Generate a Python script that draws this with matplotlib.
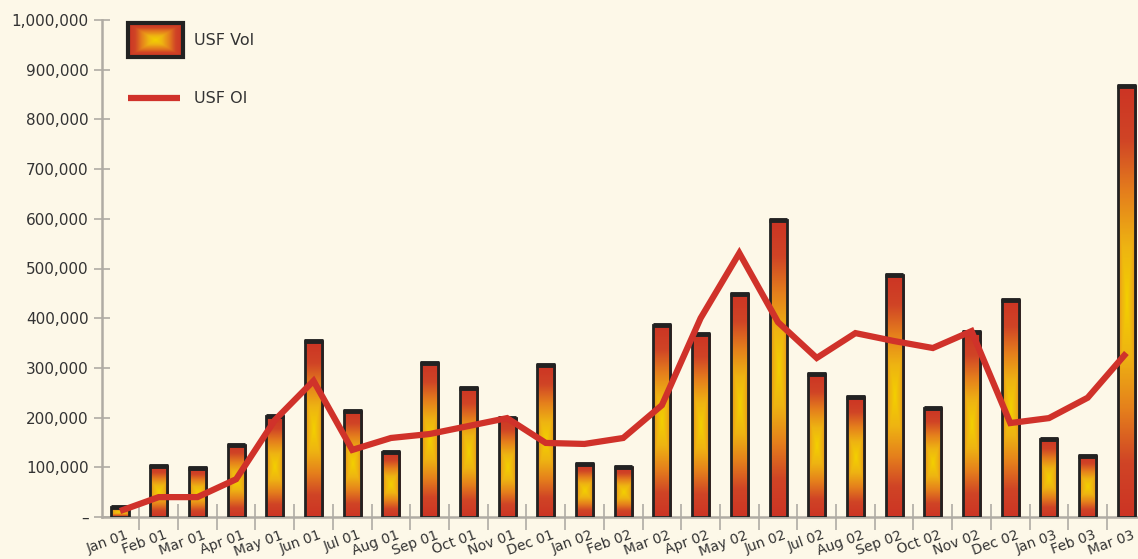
import numpy as np
import matplotlib
matplotlib.use('Agg')
from matplotlib import pyplot as plt
from matplotlib.colors import LinearSegmentedColormap
from matplotlib.patches import Rectangle
from matplotlib.transforms import ScaledTranslation

months = ['Jan 01', 'Feb 01', 'Mar 01', 'Apr 01', 'May 01', 'Jun 01', 'Jul 01', 'Aug 01',
          'Sep 01', 'Oct 01', 'Nov 01', 'Dec 01', 'Jan 02', 'Feb 02', 'Mar 02', 'Apr 02',
          'May 02', 'Jun 02', 'Jul 02', 'Aug 02', 'Sep 02', 'Oct 02', 'Nov 02', 'Dec 02',
          'Jan 03', 'Feb 03', 'Mar 03']
usf_vol = [20000, 102000, 98000, 145000, 203000, 354000, 214000, 130000,
           310000, 260000, 200000, 305000, 106000, 100000, 386000, 368000,
           449000, 598000, 287000, 241000, 487000, 219000, 372000, 437000,
           156000, 122000, 868000]
usf_oi = [12000, 40000, 40000, 76000, 195000, 274000, 135000, 159000,
          167000, 183000, 199000, 149000, 147000, 159000, 225000, 400000,
          531000, 392000, 320000, 370000, 354000, 340000, 374000, 189000,
          199000, 240000, 330000]
yticks = [0, 100000, 200000, 300000, 400000, 500000, 600000, 700000, 800000, 900000, 1000000]
ylabels = ['–', '100,000', '200,000', '300,000', '400,000', '500,000', '600,000',
           '700,000', '800,000', '900,000', '1,000,000']

bg = '#fdf8e8'
txt = '#333333'
axc = '#b0aca4'
red = '#d0322a'

fig = plt.figure(figsize=(11.38, 5.59), dpi=100, facecolor=bg)
ax = fig.add_axes([102/1138, 42/559, 1036/1138, 497/559])
ax.set_facecolor(bg)

fire = LinearSegmentedColormap.from_list('fire', ['#f3d000', '#eeb412', '#e5801c', '#d04426', '#cc3424'])
u, v = np.meshgrid(np.linspace(-1, 1, 40), np.linspace(-1, 1, 300))
grad = np.maximum(0.45 * np.abs(u), np.abs(v))

x = np.arange(len(months))
w = 0.44

# thin red shadow on the right side of each bar
ax.bar(x + 0.05, usf_vol, width=w, color='#c83a28', zorder=1)
bars = ax.bar(x, usf_vol, width=w, color='none', edgecolor='#222222', linewidth=2, zorder=3)
for b in bars:
    x0, bw, bh = b.get_x(), b.get_width(), b.get_height()
    im = ax.imshow(grad, cmap=fire, vmin=0, vmax=1, extent=[x0, x0 + bw, 0, bh],
                   aspect='auto', zorder=2, interpolation='bilinear')
    im.set_clip_path(b)
ax.hlines(usf_vol, x - w/2 - 0.02, x + w/2 + 0.02, color='#222222', lw=3.5, zorder=4)

ax.plot(x, usf_oi, color=red, lw=4.5, zorder=5, solid_joinstyle='miter', solid_capstyle='butt')

for s in ['top', 'right']:
    ax.spines[s].set_visible(False)
for s in ['left', 'bottom']:
    ax.spines[s].set_color(axc)
    ax.spines[s].set_linewidth(1.8)

ax.set_yticks(yticks)
ax.set_yticklabels(ylabels)
ax.tick_params(axis='y', direction='inout', length=11, width=1.2, color=axc,
               labelsize=11, labelcolor=txt, pad=4)

ax.set_xticks(x)
ax.set_xticklabels(months, rotation=20, ha='right', va='top', rotation_mode='anchor')
ax.set_xticks(np.arange(len(months)) - 0.5, minor=True)
ax.tick_params(axis='x', which='major', length=0, labelsize=10, labelcolor=txt, pad=8)
ax.tick_params(axis='x', which='minor', direction='inout', length=19, width=1.2, color=axc)
off = ScaledTranslation(4/72, 0, fig.dpi_scale_trans)
for lab in ax.get_xticklabels():
    lab.set_transform(lab.get_transform() + off)

# legend
lu, lv = np.meshgrid(np.linspace(-1, 1, 60), np.linspace(-1, 1, 40))
ax.imshow(np.maximum(np.abs(lu), np.abs(lv)), cmap=fire, vmin=0, vmax=1,
          extent=[0.025, 0.078, 0.926, 0.994], transform=ax.transAxes, aspect='auto',
          zorder=6, interpolation='bilinear', clip_on=False)
ax.add_patch(Rectangle((0.025, 0.926), 0.053, 0.068, transform=ax.transAxes, fill=False,
                       edgecolor='#222222', lw=3, zorder=7, clip_on=False))
ax.text(0.089, 0.958, 'USF Vol', transform=ax.transAxes, fontsize=11.5, color=txt, va='center')
ax.plot([0.025, 0.075], [0.843, 0.843], transform=ax.transAxes, color=red, lw=4.5,
        solid_capstyle='butt', zorder=6)
ax.text(0.089, 0.843, 'USF OI', transform=ax.transAxes, fontsize=11.5, color=txt, va='center')

ax.set_xlim(-0.465, 26.3)
ax.set_ylim(0, 1000000)

fig.savefig('out.png', dpi=100, facecolor=bg)
